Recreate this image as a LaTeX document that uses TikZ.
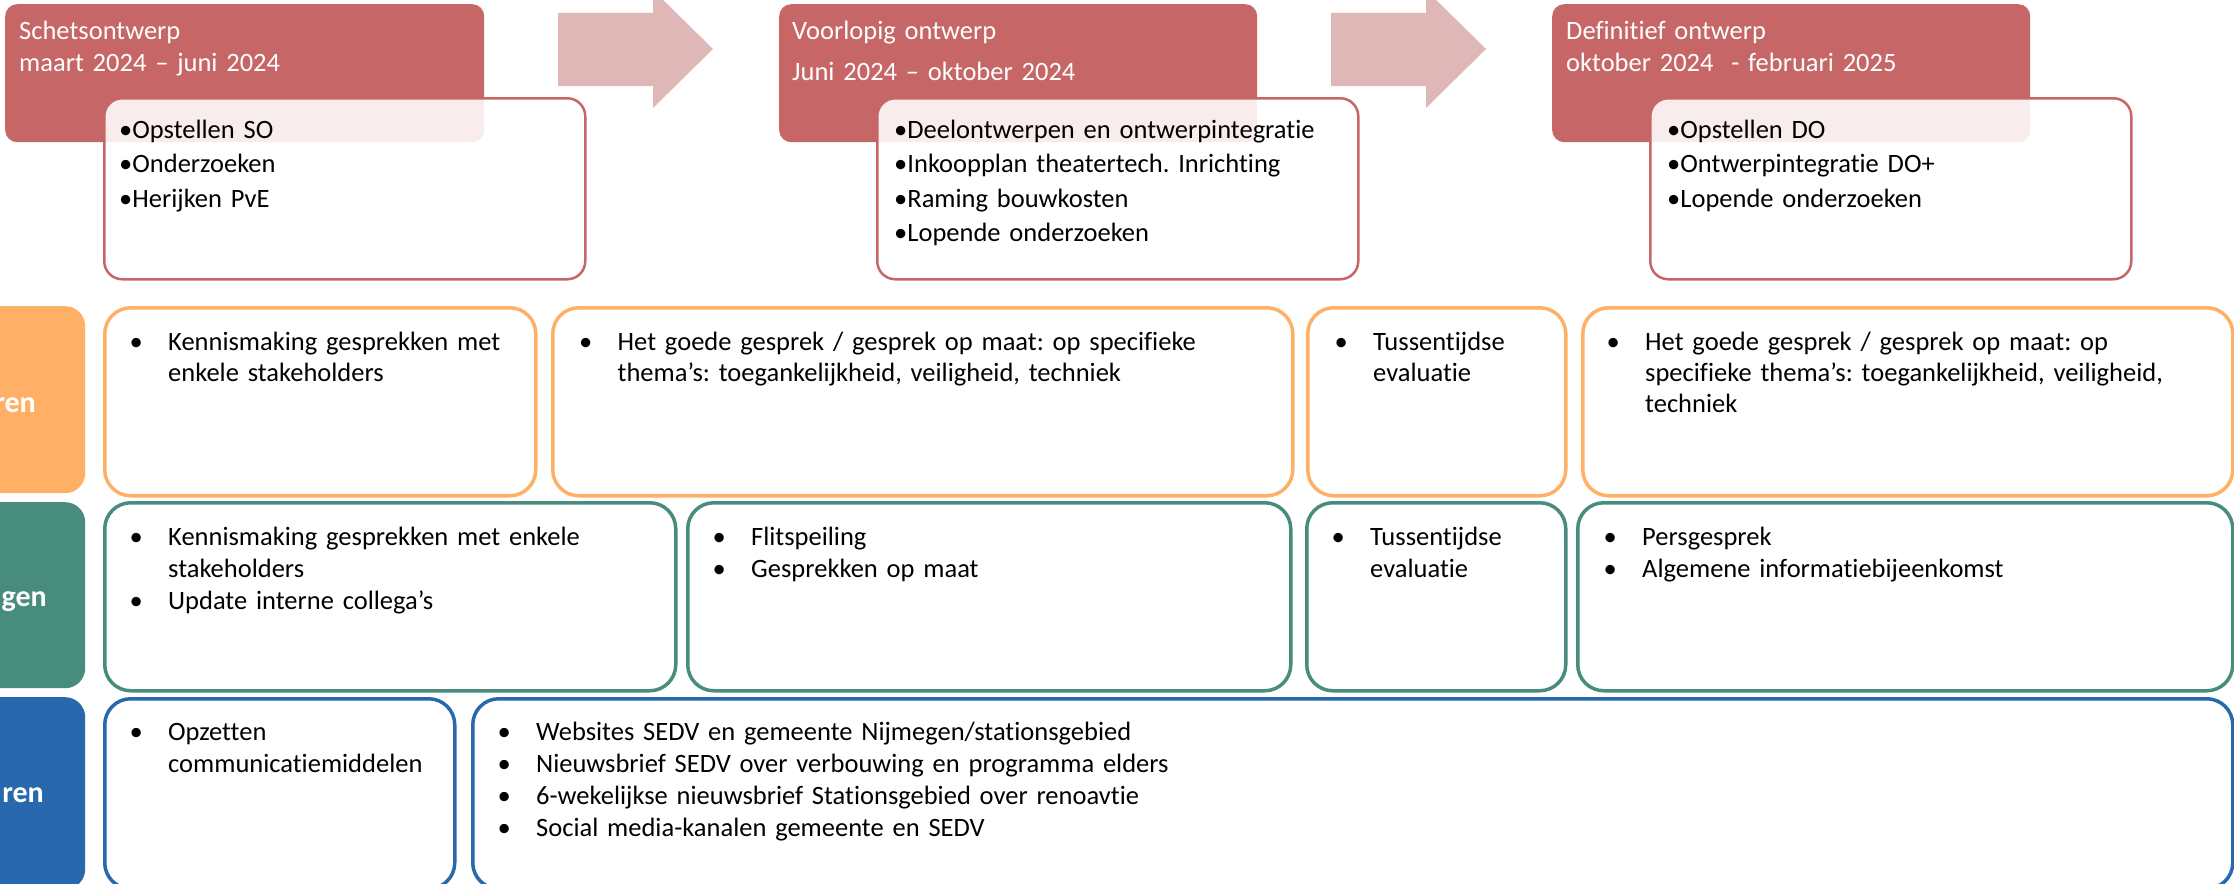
\documentclass[tikz,border=0pt]{standalone}
\usepackage{fontspec}
\setmainfont{Carlito}[Ligatures={NoCommon,NoContextual}, Contextuals=NoAlternate]
\frenchspacing
\definecolor{fasered}{RGB}{198,102,102}
\definecolor{pijlrood}{RGB}{224,183,183}
\definecolor{orng}{RGB}{255,176,102}
\definecolor{groen}{RGB}{72,140,126}
\definecolor{blauw}{RGB}{40,104,172}
\newcommand{\bl}[1]{\hangindent=38.5pt\hangafter=1\noindent\makebox[38.5pt][l]{•}#1\par}
\tikzset{
  fase/.style={fill=fasered, rounded corners=12pt, inner sep=0pt, anchor=north west},
  taak/.style={draw=fasered, line width=2.5pt, fill=white, fill opacity=.88, rounded corners=18pt, inner sep=0pt, anchor=north west},
  vak/.style={draw=#1, line width=3.5pt, fill=white, rounded corners=26pt, inner sep=0pt, anchor=north west},
  kopvak/.style={fill=#1, rounded corners=20pt, inner sep=0pt, anchor=north west},
  kop/.style={text=white, font=\fontsize{30}{36}\selectfont\bfseries, inner sep=0pt, anchor=base east},
  titel/.style={text=white, inner sep=0pt, anchor=base west, text width=440pt, align=left, font=\fontsize{26.5}{#1}\selectfont},
  lijst/.style={inner sep=0pt, anchor=base west, text width=440pt, align=left, font=\fontsize{26.5}{34.5}\selectfont},
  punt/.style={inner sep=0pt, anchor=base west, text width=1000pt, align=left, font=\fontsize{26.5}{#1}\selectfont},
}

\begin{document}
\begin{tikzpicture}[x=1pt, y=-1pt]
  \useasboundingbox (0,0) rectangle (2234,883);
  \clip (0,0) rectangle (2234,883);

  % fasen
  \node[fase, minimum width=479pt, minimum height=138pt] (f1) at (5,4) {};
  \node[fase, minimum width=478pt, minimum height=138pt] (f2) at (779,4) {};
  \node[fase, minimum width=478pt, minimum height=138pt] (f3) at (1552,4) {};
  \node[taak, minimum width=481pt, minimum height=181pt] (t1) at (103,97) {};
  \node[taak, minimum width=481pt, minimum height=181pt] (t2) at (876,97) {};
  \node[taak, minimum width=481pt, minimum height=181pt] (t3) at (1649,97) {};
  \foreach \a in {558,1331}
    \fill[pijlrood] (\a,13) -- ++(95,0) -- ++(0,-23) -- ++(60,59) -- ++(-60,59) -- ++(0,-22) -- ++(-95,0) -- cycle;

  \node[titel=32] (f1t) at (19,40) {Schetsontwerp\par maart 2024 – juni 2024};
  \node[titel=40] (f2t) at (792,40) {Voorlopig ontwerp\par Juni 2024 – oktober 2024};
  \node[titel=32] (f3t) at (1566,40) {Definitief ontwerp\par oktober 2024 \ - februari 2025};

  \node[lijst] (t1l) at (119,138) {•Opstellen SO\par •Onderzoeken\par •Herijken PvE};
  \node[lijst] (t2l) at (894,138) {•Deelontwerpen en ontwerpintegratie\par •Inkoopplan theatertech. Inrichting\par •Raming bouwkosten\par •Lopende onderzoeken};
  \node[lijst] (t3l) at (1667,138) {•Opstellen DO\par •Ontwerpintegratie DO+\par •Lopende onderzoeken};

  % rij 1
  \node[kopvak=orng, minimum width=125pt, minimum height=187pt] (k1) at (-40,306) {};
  \node[kop] (k1t) at (36,412) {ren};
  \node[vak=orng, minimum width=431pt, minimum height=188pt] (pA) at (103,306) {};
  \node[vak=orng, minimum width=740pt, minimum height=188pt] (pB) at (551,306) {};
  \node[vak=orng, minimum width=258pt, minimum height=188pt] (pC) at (1306,306) {};
  \node[vak=orng, minimum width=650pt, minimum height=188pt] (pD) at (1581,306) {};
  \node[punt=31] (pAt) at (129.5,350) {\bl{Kennismaking gesprekken met\newline enkele stakeholders}};
  \node[punt=31] (pBt) at (579,350) {\bl{Het goede gesprek / gesprek op maat: op specifieke\newline thema’s: toegankelijkheid, veiligheid, techniek}};
  \node[punt=31] (pCt) at (1334.5,350) {\bl{Tussentijdse\newline evaluatie}};
  \node[punt=31] (pDt) at (1606.5,350) {\bl{Het goede gesprek / gesprek op maat: op\newline specifieke thema’s: toegankelijkheid, veiligheid,\newline techniek}};

  % rij 2
  \node[kopvak=groen, minimum width=125pt, minimum height=186pt] (k2) at (-40,502) {};
  \node[kop] (k2t) at (47,606) {gen};
  \node[vak=groen, minimum width=571pt, minimum height=188pt] (iA) at (103,501) {};
  \node[vak=groen, minimum width=603pt, minimum height=188pt] (iB) at (686,501) {};
  \node[vak=groen, minimum width=259pt, minimum height=188pt] (iC) at (1305,501) {};
  \node[vak=groen, minimum width=655pt, minimum height=188pt] (iD) at (1576,501) {};
  \node[punt=32] (iAt) at (129.5,545) {\bl{Kennismaking gesprekken met enkele\newline stakeholders}\bl{Update interne collega’s}};
  \node[punt=32] (iBt) at (712.5,545) {\bl{Flitspeiling}\bl{Gesprekken op maat}};
  \node[punt=32] (iCt) at (1331.5,545) {\bl{Tussentijdse\newline evaluatie}};
  \node[punt=32] (iDt) at (1603.5,545) {\bl{Persgesprek}\bl{Algemene informatiebijeenkomst}};

  % rij 3
  \node[kopvak=blauw, minimum width=125pt, minimum height=192pt] (k3) at (-40,697) {};
  \node[kop] (k3t) at (44,802) {ren};
  \node[vak=blauw, minimum width=350pt, minimum height=190pt] (cA) at (103,697) {};
  \node[vak=blauw, minimum width=1760pt, minimum height=190pt] (cB) at (471,697) {};
  \node[punt=32] (cAt) at (129.5,740) {\bl{Opzetten\newline communicatiemiddelen}};
  \node[punt=32] (cBt) at (497.5,740) {\bl{Websites SEDV en gemeente Nijmegen/stationsgebied}\bl{Nieuwsbrief SEDV over verbouwing en programma elders}\bl{6-wekelijkse nieuwsbrief Stationsgebied over renoavtie}\bl{Social media-kanalen gemeente en SEDV}};
\end{tikzpicture}
\end{document}
